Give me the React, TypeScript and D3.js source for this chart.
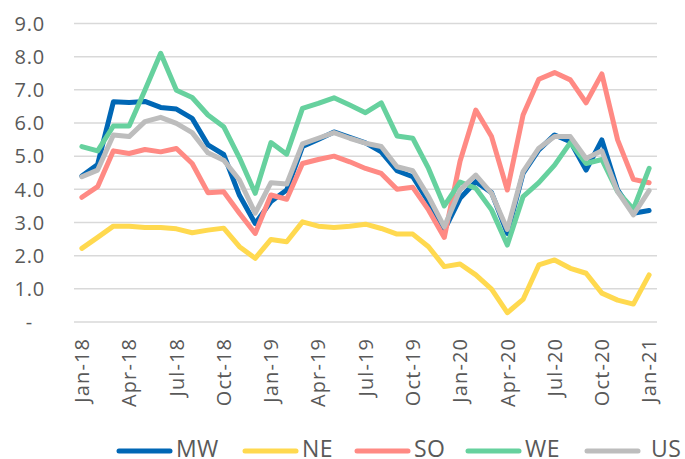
import React, { useEffect, useRef } from 'react';
import * as d3 from 'd3';

const months = [
  'Jan-18', 'Feb-18', 'Mar-18', 'Apr-18', 'May-18', 'Jun-18', 'Jul-18', 'Aug-18', 'Sep-18', 'Oct-18', 'Nov-18', 'Dec-18',
  'Jan-19', 'Feb-19', 'Mar-19', 'Apr-19', 'May-19', 'Jun-19', 'Jul-19', 'Aug-19', 'Sep-19', 'Oct-19', 'Nov-19', 'Dec-19',
  'Jan-20', 'Feb-20', 'Mar-20', 'Apr-20', 'May-20', 'Jun-20', 'Jul-20', 'Aug-20', 'Sep-20', 'Oct-20', 'Nov-20', 'Dec-20',
  'Jan-21',
];

const MW = [4.40, 4.75, 6.64, 6.62, 6.65, 6.47, 6.42, 6.14, 5.34, 5.05, 3.82, 2.97, 3.63, 3.98, 5.29, 5.50, 5.73, 5.57, 5.40, 5.13, 4.56, 4.38, 3.62, 2.77, 3.73, 4.23, 3.90, 2.67, 4.48, 5.19, 5.64, 5.44, 4.58, 5.49, 3.98, 3.28, 3.36];
const NE = [2.22, 2.55, 2.89, 2.89, 2.85, 2.85, 2.81, 2.69, 2.77, 2.83, 2.27, 1.92, 2.49, 2.42, 3.02, 2.89, 2.85, 2.89, 2.95, 2.82, 2.65, 2.65, 2.27, 1.67, 1.75, 1.42, 0.99, 0.28, 0.68, 1.72, 1.87, 1.62, 1.47, 0.87, 0.66, 0.54, 1.42];
const SO = [3.76, 4.08, 5.16, 5.08, 5.20, 5.13, 5.23, 4.78, 3.90, 3.93, 3.28, 2.67, 3.83, 3.70, 4.78, 4.90, 5.00, 4.83, 4.63, 4.48, 4.00, 4.06, 3.38, 2.55, 4.85, 6.39, 5.59, 3.98, 6.24, 7.32, 7.52, 7.30, 6.61, 7.48, 5.49, 4.30, 4.20];
const WE = [5.29, 5.16, 5.91, 5.91, 6.99, 8.10, 6.99, 6.77, 6.24, 5.89, 4.95, 3.88, 5.41, 5.06, 6.44, 6.59, 6.76, 6.54, 6.31, 6.61, 5.61, 5.54, 4.63, 3.50, 4.22, 4.03, 3.38, 2.32, 3.78, 4.20, 4.73, 5.41, 4.78, 4.90, 3.93, 3.40, 4.63];
const US = [4.38, 4.58, 5.64, 5.59, 6.04, 6.17, 5.99, 5.71, 5.10, 4.88, 4.28, 3.28, 4.20, 4.16, 5.37, 5.54, 5.71, 5.54, 5.39, 5.29, 4.68, 4.56, 3.78, 2.87, 3.98, 4.43, 3.88, 2.79, 4.53, 5.24, 5.59, 5.59, 4.93, 5.16, 3.93, 3.23, 3.96];

const yTicks = [0, 1, 2, 3, 4, 5, 6, 7, 8, 9];
const xTickLabels = ['Jan-18', 'Apr-18', 'Jul-18', 'Oct-18', 'Jan-19', 'Apr-19', 'Jul-19', 'Oct-19', 'Jan-20', 'Apr-20', 'Jul-20', 'Oct-20', 'Jan-21'];

const series = [
  { name: 'MW', values: MW, color: '#0067b5' },
  { name: 'NE', values: NE, color: '#ffd94f' },
  { name: 'SO', values: SO, color: '#ff8a84' },
  { name: 'WE', values: WE, color: '#66d19e' },
  { name: 'US', values: US, color: '#bdbdbd' },
];

// legend item placement (line start, text offset)
const legendX = [117, 243, 355, 466, 585];
const legendTextDx = [59, 59, 59, 59, 66];

export default function App() {
  const ref = useRef(null);

  useEffect(() => {
    if (!ref.current) return;
    const width = 685;
    const height = 459;
    const font = "'Open Sans', sans-serif";
    const textColor = '#595959';

    d3.select(ref.current).selectAll('*').remove();
    const svg = d3
      .select(ref.current)
      .append('svg')
      .attr('width', width)
      .attr('height', height)
      .style('position', 'absolute')
      .style('left', 0)
      .style('top', 0);

    const x = d3.scaleBand().domain(months).range([74, 657]);
    const y = d3.scaleLinear().domain([0, 9]).range([322, 23.5]);

    // gridlines
    svg
      .append('g')
      .selectAll('line')
      .data(yTicks)
      .join('line')
      .attr('x1', 74)
      .attr('x2', 657)
      .attr('y1', (d) => y(d))
      .attr('y2', (d) => y(d))
      .attr('stroke', '#d9d9d9')
      .attr('stroke-width', 1.5);

    // y labels
    svg
      .append('g')
      .selectAll('text')
      .data(yTicks)
      .join('text')
      .attr('x', (d) => (d === 0 ? 33 : 45))
      .attr('y', (d) => y(d))
      .attr('dy', '0.36em')
      .attr('text-anchor', 'end')
      .attr('font-family', font)
      .attr('font-size', 20)
      .attr('letter-spacing', 0.8)
      .attr('fill', textColor)
      .text((d) => (d === 0 ? '-' : d.toFixed(1)));

    // x labels
    svg
      .append('g')
      .selectAll('text')
      .data(xTickLabels)
      .join('text')
      .attr('transform', (d) => `translate(${x(d) + x.bandwidth() / 2},338) rotate(-90)`)
      .attr('dy', '0.36em')
      .attr('text-anchor', 'end')
      .attr('font-family', font)
      .attr('font-size', 20)
      .attr('letter-spacing', 1.1)
      .attr('fill', textColor)
      .text((d) => d);

    const line = d3
      .line()
      .x((d, i) => x(months[i]) + x.bandwidth() / 2)
      .y((d) => y(d));

    svg
      .append('g')
      .selectAll('path')
      .data(series)
      .join('path')
      .attr('fill', 'none')
      .attr('stroke', (d) => d.color)
      .attr('stroke-width', 5)
      .attr('stroke-linejoin', 'round')
      .attr('stroke-linecap', 'round')
      .attr('d', (d) => line(d.values));

    // legend
    const legend = svg
      .append('g')
      .selectAll('g')
      .data(series)
      .join('g')
      .attr('transform', (d, i) => `translate(${legendX[i]},451)`);

    legend
      .append('line')
      .attr('x1', 2)
      .attr('x2', 53)
      .attr('stroke', (d) => d.color)
      .attr('stroke-width', 5)
      .attr('stroke-linecap', 'round');

    legend
      .append('text')
      .attr('x', (d, i) => legendTextDx[i])
      .attr('y', 6)
      .attr('font-family', font)
      .attr('font-size', 23)
      .attr('letter-spacing', 0.4)
      .attr('fill', textColor)
      .text((d) => d.name);
  }, []);

  return <div ref={ref} />;
}
